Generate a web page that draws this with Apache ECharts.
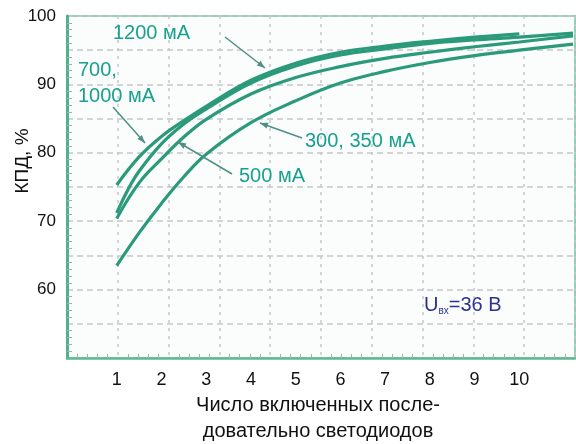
<!DOCTYPE html>
<html lang="ru">
<head>
<meta charset="UTF-8">
<title>КПД от числа светодиодов</title>
<script src="https://cdn.jsdelivr.net/npm/echarts@6/dist/echarts.min.js"></script>
<style>
  html, body { margin: 0; padding: 0; background: #fff; }
  #chart { width: 576px; height: 444px; }
</style>
</head>
<body>
<div id="chart"></div>
<script>
  // число светодиодов / КПД, %
  const n1200 = [1, 1.5, 2, 2.5, 3, 4, 5, 6, 7, 8, 9, 10];
  const eff1200 = [75.3, 79.4, 82.4, 84.7, 86.8, 90.6, 93.1, 94.7, 95.6, 96.3, 96.9, 97.4];
  const n700 = [1, 1.25, 1.5, 2, 2.5, 3, 4, 5, 6, 7, 8, 9, 10, 11.2];
  const eff700 = [71.2, 74.6, 77.3, 81.3, 84.2, 86.4, 90.2, 92.7, 94.3, 95.2, 96.0, 96.5, 96.9, 97.5];
  const n500 = [1, 1.5, 2, 2.5, 3, 4, 5, 6, 7, 8, 9, 10, 11.2];
  const eff500 = [70.4, 75.6, 79.1, 82.3, 84.9, 88.6, 91.0, 92.6, 93.8, 94.7, 95.5, 96.2, 97.1];
  const n300 = [1, 1.5, 2, 2.5, 3, 4, 5, 6, 7, 8, 9, 10, 11.2];
  const eff300 = [63.5, 68.3, 72.6, 76.5, 79.8, 84.4, 87.6, 90.2, 91.9, 93.2, 94.2, 95.0, 95.9];

  const xTicks = [1, 2, 3, 4, 5, 6, 7, 8, 9, 10];
  const yTicks = [60, 70, 80, 90, 100];

  const FONT = '"Liberation Sans", Arial, sans-serif';
  const TEAL = '#19a08f';
  const CURVE = '#2a9a7a';
  const LEADER = '#4f8f85';

  function curve(xs, ys) {
    return {
      type: 'line', xAxisIndex: 0, yAxisIndex: 0,
      data: xs.map((x, i) => [x, ys[i]]),
      smooth: 0.4, symbol: 'none',
      lineStyle: { color: CURVE, width: 3.2 },
      z: 5
    };
  }

  function arrow(x1, y1, x2, y2) {
    const a = Math.atan2(y2 - y1, x2 - x1), L = 8, W = 3;
    const c = Math.cos(a), s = Math.sin(a);
    return [
      { type: 'line', shape: { x1, y1, x2, y2 }, style: { stroke: LEADER, lineWidth: 1.5 }, z: 10 },
      { type: 'polygon', z: 10, shape: { points: [[x2, y2],
          [x2 - L * c + W * s, y2 - L * s - W * c],
          [x2 - L * c - W * s, y2 - L * s + W * c]] },
        style: { fill: LEADER } }
    ];
  }

  function label(text, x, y) {
    return { type: 'text', x, y, z: 10,
      style: { text, fill: TEAL, fontSize: 20, fontFamily: FONT, verticalAlign: 'middle' } };
  }

  const chart = echarts.init(document.getElementById('chart'));
  chart.setOption({
    animation: false,
    textStyle: { fontFamily: FONT },
    grid: [
      { left: 72, right: 1, top: 16, bottom: 86 },
      { left: 67, right: 1, top: 16, bottom: 86, show: true,
        backgroundColor: '#fafdfc', borderColor: '#8fd0b8', borderWidth: 2 }
    ],
    xAxis: [
      { gridIndex: 0, type: 'value', min: 0, max: 11.2, interval: 1,
        axisLine: { show: false }, axisTick: { show: false }, splitLine: { show: false },
        axisLabel: { formatter: v => xTicks.includes(v) ? String(v) : '', fontSize: 18,
          color: '#111', margin: 13, fontFamily: FONT } },
      { gridIndex: 1, type: 'value', min: 0, max: 10, interval: 1,
        axisLine: { lineStyle: { color: '#5db894', width: 2.5 } },
        axisTick: { show: false, inside: true },
        minorTick: { show: true, splitNumber: 5, length: 4, lineStyle: { color: '#a3b0ac', width: 1 } },
        axisLabel: { show: false },
        splitLine: { show: true, lineStyle: { color: '#c4c8c7', type: [3, 5], width: 1.5 } } }
    ],
    yAxis: [
      { gridIndex: 0, type: 'value', min: 50, max: 100, show: false },
      { gridIndex: 1, type: 'value', min: 50, max: 100, interval: 5,
        axisLine: { show: true, lineStyle: { color: '#4fb28e', width: 3 } },
        axisTick: { show: false, inside: true },
        minorTick: { show: true, splitNumber: 5, length: 5, lineStyle: { color: '#a3b0ac', width: 1 } },
        axisLabel: { formatter: v => yTicks.includes(v) ? String(v) : '', fontSize: 17,
          color: '#111', margin: 11, fontFamily: FONT },
        splitLine: { lineStyle: { color: '#c4c8c7', type: [6, 4], width: 1.5 } } }
    ],
    series: [
      curve(n300, eff300),
      curve(n500, eff500),
      curve(n700, eff700),
      curve(n1200, eff1200)
    ],
    graphic: [
      ...arrow(225, 37, 265, 68),
      ...arrow(113, 107, 145, 143),
      ...arrow(232, 174, 178, 142),
      ...arrow(302, 138, 260, 123),
      label('1200 мА', 113, 33),
      label('700,', 78, 70),
      label('1000 мА', 78, 96),
      label('500 мА', 239, 176),
      label('300, 350 мА', 305, 141),
      { type: 'text', x: 424, y: 305, z: 10,
        style: { text: '{u|U}{s|вх}{u|=36 В}', verticalAlign: 'middle',
          rich: {
            u: { fontSize: 20, fill: '#2e3192', fontFamily: FONT },
            s: { fontSize: 10, fill: '#2e3192', fontFamily: FONT, verticalAlign: 'bottom', padding: [12, 0, 0, 0] }
          } } },
      { type: 'text', x: 23, y: 161, rotation: Math.PI / 2, z: 10,
        style: { text: 'КПД, %', fill: '#111', fontSize: 19, fontFamily: FONT,
          align: 'center', verticalAlign: 'middle' } },
      { type: 'text', x: 318, y: 392, z: 10,
        style: { text: 'Число включенных после-\nдовательно светодиодов', fill: '#111',
          fontSize: 20, lineHeight: 26, fontFamily: FONT, align: 'center', verticalAlign: 'top' } }
    ]
  });
</script>
</body>
</html>
